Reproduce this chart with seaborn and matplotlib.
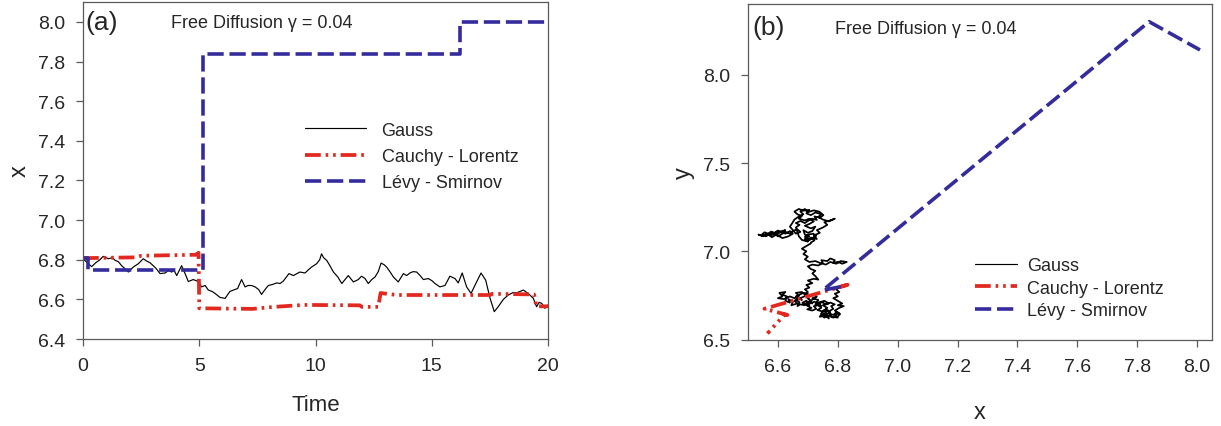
import numpy as np
import pandas as pd
import matplotlib
matplotlib.use("Agg")
import matplotlib.pyplot as plt
import seaborn as sns

# ---------------- data ----------------
# Panel (a): x(t)
gauss_t = [0, 0.23, 0.37, 0.55, 0.73, 0.87, 1.09, 1.25, 1.38, 1.52, 1.66, 1.8, 1.95, 2.05, 2.16,
           2.38, 2.59, 2.74, 2.88, 3.02, 3.15, 3.31, 3.53, 3.67, 3.81, 3.92, 4.03, 4.24, 4.39, 4.53,
           4.74, 4.96, 5.1, 5.25, 5.39, 5.55, 5.68, 5.89, 6.11, 6.32, 6.47, 6.65, 6.82, 6.97, 7.1,
           7.25, 7.4, 7.55, 7.68, 7.8, 7.97, 8.15, 8.33, 8.48, 8.62, 8.86, 9.05, 9.2, 9.33, 9.55,
           9.7, 9.83, 10.05, 10.18, 10.26, 10.35, 10.48, 10.62, 10.77, 10.96, 11.13, 11.27, 11.41,
           11.63, 11.84, 11.98, 12.13, 12.27, 12.42, 12.56, 12.7, 12.82, 12.95, 13.06, 13.2, 13.35,
           13.56, 13.78, 13.92, 14.06, 14.2, 14.35, 14.5, 14.64, 14.85, 15.0, 15.14, 15.35, 15.57,
           15.78, 16.0, 16.14, 16.31, 16.5, 16.69, 16.93, 17.12, 17.32, 17.51, 17.69, 17.86, 18.08,
           18.29, 18.51, 18.65, 18.8, 18.94, 19.15, 19.37, 19.51, 19.62, 19.73, 19.87, 20.0]
gauss_x = [6.805, 6.78, 6.765, 6.785, 6.80, 6.817, 6.805, 6.81, 6.797, 6.79, 6.77, 6.755, 6.738, 6.75, 6.763,
           6.78, 6.805, 6.793, 6.785, 6.77, 6.755, 6.73, 6.733, 6.745, 6.738, 6.745, 6.72, 6.77, 6.73, 6.69,
           6.70, 6.69, 6.663, 6.67, 6.647, 6.64, 6.63, 6.61, 6.605, 6.64, 6.647, 6.655, 6.70, 6.663, 6.67,
           6.67, 6.663, 6.65, 6.625, 6.645, 6.67, 6.675, 6.683, 6.68, 6.693, 6.73, 6.72, 6.73, 6.738, 6.733,
           6.75, 6.763, 6.78, 6.80, 6.83, 6.81, 6.797, 6.77, 6.738, 6.713, 6.68, 6.70, 6.72,
           6.688, 6.70, 6.717, 6.705, 6.68, 6.70, 6.713, 6.74, 6.783, 6.775, 6.763, 6.74, 6.713,
           6.688, 6.73, 6.72, 6.733, 6.74, 6.738, 6.72, 6.70, 6.705, 6.695, 6.68, 6.663, 6.67,
           6.717, 6.705, 6.683, 6.733, 6.663, 6.63, 6.688, 6.733, 6.697, 6.605, 6.538, 6.563, 6.60,
           6.622, 6.635, 6.633, 6.64, 6.647, 6.63, 6.605, 6.563, 6.585, 6.58, 6.555, 6.572]

cauchy_t = [0.0, 2.3, 2.5, 4.85, 4.97, 5.0, 7.3, 8.2, 9.5, 11.9, 12.0, 12.7, 12.8, 13.5, 17.5, 17.6, 19.4, 19.5, 20.0]
cauchy_x = [6.808, 6.812, 6.82, 6.825, 6.835, 6.555, 6.552, 6.562, 6.572, 6.570, 6.562, 6.562, 6.632, 6.622,
            6.622, 6.628, 6.625, 6.565, 6.565]

levy_t = [0.0, 0.23, 5.18, 16.2, 20.0]
levy_x = [6.81, 6.75, 7.84, 8.0, 8.0]

# Panel (b): Gauss 2-D path, read segment by segment
g_start_x = [6.810, 6.795, 6.805, 6.790, 6.800, 6.785, 6.800, 6.815, 6.800, 6.820, 6.805, 6.790, 6.805, 6.790,
             6.800, 6.780]
g_start_y = [6.800, 6.785, 6.770, 6.760, 6.745, 6.735, 6.720, 6.705, 6.695, 6.690, 6.680, 6.665, 6.650, 6.640,
             6.625, 6.630]
g_lump_x = [6.770, 6.785, 6.795, 6.808, 6.800, 6.785, 6.770, 6.755, 6.748, 6.760]
g_lump_y = [6.650, 6.640, 6.655, 6.645, 6.632, 6.625, 6.635, 6.625, 6.640, 6.655]
g_low_x = [6.770, 6.760, 6.775, 6.755, 6.745, 6.760, 6.740, 6.750, 6.765, 6.750, 6.770, 6.755,
           6.735, 6.745, 6.725, 6.735, 6.715, 6.730, 6.710, 6.700, 6.715, 6.695, 6.705, 6.690,
           6.700, 6.712, 6.698, 6.715, 6.728, 6.720, 6.735, 6.745, 6.732, 6.748, 6.760, 6.772, 6.785,
           6.778, 6.790, 6.775, 6.760, 6.748, 6.735, 6.722, 6.708, 6.695, 6.682, 6.690, 6.675, 6.665,
           6.672, 6.660, 6.675, 6.688, 6.700, 6.685, 6.672, 6.660]
g_low_y = [6.620, 6.640, 6.655, 6.665, 6.650, 6.635, 6.630, 6.660, 6.680, 6.695, 6.705, 6.720,
           6.710, 6.690, 6.700, 6.725, 6.735, 6.745, 6.720, 6.735, 6.705, 6.715, 6.695, 6.705,
           6.690, 6.680, 6.672, 6.665, 6.675, 6.690, 6.695, 6.680, 6.668, 6.660, 6.672, 6.662, 6.675,
           6.690, 6.700, 6.710, 6.700, 6.712, 6.705, 6.715, 6.705, 6.720, 6.710, 6.695, 6.700, 6.690,
           6.712, 6.725, 6.735, 6.745, 6.760, 6.765, 6.755, 6.745]
g_left_x = [6.680, 6.670, 6.655, 6.665, 6.645, 6.650, 6.635, 6.640, 6.625, 6.630, 6.615, 6.625, 6.605, 6.615,
            6.600, 6.620, 6.640, 6.655]
g_left_y = [6.725, 6.740, 6.720, 6.705, 6.695, 6.715, 6.730, 6.710, 6.720, 6.745, 6.755, 6.770, 6.765, 6.745,
            6.735, 6.730, 6.745, 6.735]
g_up_x = [6.670, 6.660, 6.680, 6.690, 6.700, 6.690, 6.705, 6.695, 6.715, 6.700, 6.720, 6.735, 6.725, 6.715,
          6.725, 6.710, 6.700, 6.715, 6.735, 6.750, 6.745, 6.765, 6.775, 6.790, 6.785, 6.800, 6.815, 6.830]
g_up_y = [6.750, 6.765, 6.770, 6.755, 6.770, 6.785, 6.795, 6.810, 6.820, 6.835, 6.845, 6.840, 6.860, 6.875,
          6.890, 6.900, 6.915, 6.925, 6.920, 6.935, 6.950, 6.945, 6.960, 6.950, 6.935, 6.940, 6.930, 6.940]
g_back_x = [6.810, 6.795, 6.775, 6.760, 6.740, 6.725, 6.705, 6.690, 6.700, 6.685, 6.695, 6.680, 6.695, 6.710,
            6.710, 6.722, 6.712, 6.700, 6.690, 6.702, 6.718, 6.728]
g_back_y = [6.945, 6.930, 6.940, 6.925, 6.935, 6.945, 6.940, 6.955, 6.970, 6.985, 7.000, 7.015, 7.030, 7.045,
            7.050, 7.062, 7.078, 7.068, 7.082, 7.095, 7.100, 7.088]
g_arm_x = [6.700, 6.715, 6.730, 6.720, 6.740, 6.730, 6.750, 6.765, 6.755, 6.775, 6.790, 6.770, 6.750]
g_arm_y = [7.060, 7.075, 7.070, 7.090, 7.105, 7.120, 7.135, 7.150, 7.165, 7.175, 7.185, 7.170, 7.180]
g_top_x = [6.735, 6.745, 6.725, 6.710, 6.695, 6.705, 6.685, 6.670, 6.655, 6.665, 6.680, 6.670, 6.690, 6.705,
           6.720, 6.705, 6.690, 6.710, 6.725, 6.715, 6.700, 6.685, 6.690, 6.705, 6.690, 6.700, 6.680, 6.670,
           6.660, 6.672, 6.660, 6.675, 6.690, 6.700, 6.715, 6.730, 6.722, 6.740, 6.752, 6.738, 6.720, 6.700,
           6.690, 6.675, 6.685, 6.668, 6.655, 6.648, 6.640, 6.660, 6.675, 6.665, 6.650]
g_top_y = [7.195, 7.210, 7.220, 7.205, 7.215, 7.235, 7.230, 7.240, 7.225, 7.210, 7.200, 7.185, 7.175, 7.185,
           7.170, 7.155, 7.145, 7.130, 7.140, 7.115, 7.105, 7.120, 7.095, 7.085, 7.070, 7.055, 7.065, 7.085,
           7.135, 7.150, 7.160, 7.172, 7.160, 7.172, 7.185, 7.178, 7.198, 7.190, 7.205, 7.225, 7.232, 7.222,
           7.240, 7.225, 7.210, 7.195, 7.180, 7.160, 7.140, 7.100, 7.110, 7.125, 7.115]
g_west_x = [6.640, 6.625, 6.610, 6.600, 6.590, 6.575, 6.560, 6.545, 6.535,
            6.550, 6.565, 6.580, 6.595, 6.610, 6.625, 6.640, 6.650, 6.635, 6.615, 6.600, 6.585, 6.570,
            6.625, 6.612, 6.600, 6.588, 6.578, 6.566, 6.556, 6.548, 6.560, 6.570]
g_west_y = [7.100, 7.110, 7.095, 7.085, 7.100, 7.090, 7.095, 7.090, 7.095,
            7.085, 7.100, 7.080, 7.095, 7.110, 7.100, 7.115, 7.100, 7.085, 7.075, 7.090, 7.105, 7.095,
            7.120, 7.108, 7.118, 7.105, 7.112, 7.100, 7.108, 7.098, 7.085, 7.095]

cauchy_px = [6.81, 6.833, 6.555, 6.57, 6.632, 6.622, 6.565]
cauchy_py = [6.80, 6.811, 6.675, 6.668, 6.640, 6.642, 6.535]

levy_px = [6.81, 6.75, 7.84, 8.01]
levy_py = [6.80, 6.78, 8.30, 8.14]

labels = ["Gauss", "Cauchy - Lorentz", "Lévy - Smirnov"]
panel_tags = ["(a)", "(b)"]
annotation = "Free Diffusion γ = 0.04"

gauss_px = (g_start_x + g_lump_x + g_low_x + g_left_x + g_up_x + g_back_x + g_arm_x + g_top_x + g_west_x)
gauss_py = (g_start_y + g_lump_y + g_low_y + g_left_y + g_up_y + g_back_y + g_arm_y + g_top_y + g_west_y)

# ---------------- style ----------------
sns.set_theme(style="ticks")
plt.rcParams["font.family"] = ["Liberation Sans", "DejaVu Sans"]

RED = "#e2281f"
BLUE = "#342c9c"
SPINE = "#5a5a5a"

fig = plt.figure(figsize=(12.21, 4.27), dpi=100)
ax_a = fig.add_axes([0.0680, 0.2037, 0.3808, 0.7892])
ax_b = fig.add_axes([0.6126, 0.2021, 0.3800, 0.7862])

levy_style = dict(color=BLUE, linewidth=2.6, linestyle=(0, (4.5, 1.6)))
cauchy_style = dict(color=RED, linewidth=2.7, linestyle=(0, (4.2, 1.3, 0.7, 1.3, 0.7, 1.3)))
gauss_style = dict(color="black", linewidth=0.85)

# Panel (a)
sns.lineplot(x=gauss_t, y=gauss_x, ax=ax_a, label=labels[0], sort=False, estimator=None, **gauss_style)
sns.lineplot(x=cauchy_t, y=cauchy_x, ax=ax_a, label=labels[1], sort=False, estimator=None, **cauchy_style)
sns.lineplot(x=levy_t, y=levy_x, ax=ax_a, label=labels[2], sort=False, estimator=None,
             drawstyle="steps-post", **levy_style)

# Panel (b)
sns.lineplot(x=gauss_px, y=gauss_py, ax=ax_b, label=labels[0], sort=False, estimator=None,
             color="black", linewidth=1.25)
sns.lineplot(x=cauchy_px, y=cauchy_py, ax=ax_b, label=labels[1], sort=False, estimator=None, **cauchy_style)
sns.lineplot(x=levy_px, y=levy_py, ax=ax_b, label=labels[2], sort=False, estimator=None, **levy_style)

ax_a.set_xlim(0, 20)
ax_a.set_ylim(6.4, 8.1)
ax_a.set_xticks([0, 5, 10, 15, 20])
ax_a.set_yticks(np.round(np.arange(6.4, 8.01, 0.2), 1))
ax_a.set_yticklabels([f"{v:.1f}" for v in np.arange(6.4, 8.01, 0.2)])
ax_a.set_xlabel("Time", fontsize=16, labelpad=14)
ax_a.set_ylabel("x", fontsize=17, labelpad=5)

ax_b.set_xlim(6.5, 8.05)
ax_b.set_ylim(6.5, 8.4)
ax_b.set_xticks(np.round(np.arange(6.6, 8.01, 0.2), 1))
ax_b.set_xticklabels([f"{v:.1f}" for v in np.arange(6.6, 8.01, 0.2)])
ax_b.set_yticks([6.5, 7.0, 7.5, 8.0])
ax_b.set_yticklabels(["6.5", "7.0", "7.5", "8.0"])
ax_b.set_xlabel("x", fontsize=17, labelpad=19)
ax_b.set_ylabel("y", fontsize=17, labelpad=6)

for ax in (ax_a, ax_b):
    for s in ax.spines.values():
        s.set_visible(True)
        s.set_color(SPINE)
        s.set_linewidth(0.9)
    ax.tick_params(direction="out", length=5, width=0.9, color=SPINE, labelsize=14,
                   pad=8, top=False, right=False)
    ax.grid(False)

ax_a.text(0.006, 0.94, panel_tags[0], transform=ax_a.transAxes, fontsize=19, va="center", ha="left")
ax_a.text(0.19, 0.94, annotation, transform=ax_a.transAxes, fontsize=13, va="center", ha="left")
ax_b.text(0.01, 0.93, panel_tags[1], transform=ax_b.transAxes, fontsize=19, va="center", ha="left")
ax_b.text(0.187, 0.928, annotation, transform=ax_b.transAxes, fontsize=13, va="center", ha="left")


def ordered_legend(ax, anchor, handlelength, textpad, spacing):
    h, l = ax.get_legend_handles_labels()
    d = dict(zip(l, h))
    hs = [d[k] for k in labels]
    ax.legend(hs, labels, loc="upper left", bbox_to_anchor=anchor,
              frameon=False, fontsize=13, handlelength=handlelength, handletextpad=textpad,
              labelspacing=spacing, borderpad=0, borderaxespad=0)
    leg = ax.get_legend()
    leg.get_lines()[0].set_linewidth(0.85)


ordered_legend(ax_a, (0.477, 0.645), 3.4, 0.85, 0.52)
ordered_legend(ax_b, (0.49, 0.246), 2.3, 0.55, 0.3)

fig.savefig("out.png", dpi=100)
